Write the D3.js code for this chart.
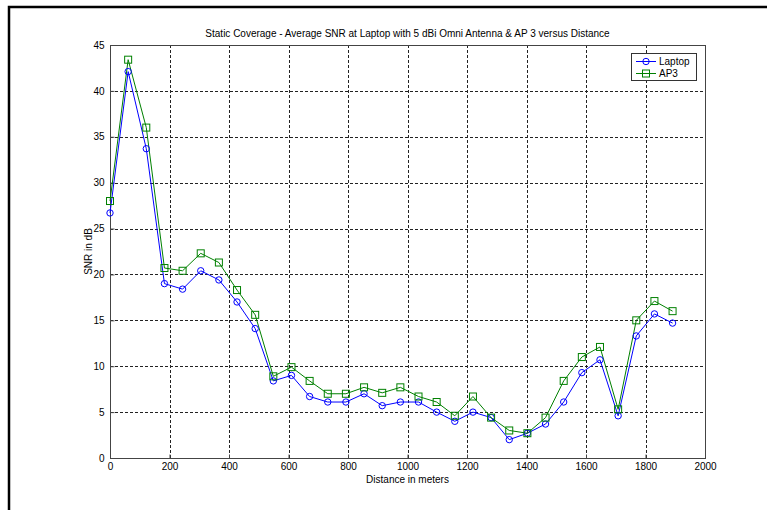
<!DOCTYPE html>
<html>
<head>
<meta charset="utf-8">
<script src="https://cdn.jsdelivr.net/npm/d3@7/dist/d3.min.js"></script>
<style>
  html, body { margin: 0; padding: 0; background: #fff; }
  svg { display: block; }
  text { font-family: "Liberation Sans", Arial, sans-serif; fill: #000; }
</style>
</head>
<body>
<svg id="chart" width="767" height="510"></svg>
<script>
// Measurement positions along the route (meters)
const distance = [0, 61, 122, 183, 244, 305, 366, 427, 488, 549, 610, 671, 732, 793, 854, 915,
                  976, 1037, 1098, 1159, 1220, 1281, 1342, 1403, 1464, 1525, 1586, 1647, 1708, 1769, 1830, 1891];
// Average SNR (dB) at the laptop
const laptopSNR = [26.7, 42.1, 33.7, 19.0, 18.4, 20.4, 19.4, 17.0, 14.1, 8.4, 9.0, 6.7, 6.1, 6.1, 7.0, 5.7,
                   6.1, 6.1, 5.0, 4.0, 5.0, 4.4, 2.0, 2.7, 3.7, 6.1, 9.3, 10.7, 4.6, 13.3, 15.7, 14.7];
// Average SNR (dB) at AP 3
const ap3SNR = [28.0, 43.4, 36.0, 20.7, 20.4, 22.3, 21.3, 18.3, 15.6, 8.9, 9.9, 8.4, 7.0, 7.0, 7.7, 7.1,
                7.7, 6.7, 6.1, 4.6, 6.7, 4.4, 3.0, 2.7, 4.4, 8.4, 11.0, 12.1, 5.3, 15.0, 17.1, 16.0];
const seriesNames = ["Laptop", "AP3"];
const xTicks = [0, 200, 400, 600, 800, 1000, 1200, 1400, 1600, 1800, 2000];
const yTicks = [0, 5, 10, 15, 20, 25, 30, 35, 40, 45];

const svg = d3.select("#chart");
const plotL = 110, plotR = 705, plotT = 45, plotB = 458;

const x = d3.scaleLinear().domain([0, 2000]).range([plotL, plotR]);
const y = d3.scaleLinear().domain([0, 45]).range([plotB, plotT]);

// Figure frame
svg.append("rect")
  .attr("x", 9).attr("y", 7).attr("width", 800).attr("height", 600)
  .attr("fill", "none").attr("stroke", "#000").attr("stroke-width", 2.5);

// Dotted grid
const grid = svg.append("g").attr("stroke", "#222").attr("stroke-dasharray", "3,2").attr("stroke-width", 1);
grid.selectAll("line.gx").data(xTicks.slice(1, -1)).join("line")
  .attr("x1", d => Math.round(x(d)) + 0.5).attr("x2", d => Math.round(x(d)) + 0.5)
  .attr("y1", plotT).attr("y2", plotB);
grid.selectAll("line.gy").data(yTicks.slice(1, -1)).join("line")
  .attr("y1", d => Math.round(y(d)) + 0.5).attr("y2", d => Math.round(y(d)) + 0.5)
  .attr("x1", plotL).attr("x2", plotR);

// Axes with inward ticks
const fmt = d3.format("d");
const xAxis = d3.axisBottom(x).tickValues(xTicks).tickFormat(fmt).tickSizeInner(-4).tickSizeOuter(0).tickPadding(6);
const yAxis = d3.axisLeft(y).tickValues(yTicks).tickFormat(fmt).tickSizeInner(-4).tickSizeOuter(0).tickPadding(6);
const gx = svg.append("g").attr("transform", `translate(0,${plotB + 0.5})`).call(xAxis);
const gy = svg.append("g").attr("transform", `translate(${plotL + 0.5},0)`).call(yAxis);
[gx, gy].forEach(g => {
  g.select(".domain").remove();
  g.selectAll(".tick line").attr("stroke", "#444");
  g.selectAll(".tick text").attr("font-size", 10).attr("font-family", "Liberation Sans, Arial, sans-serif").attr("fill", "#000");
});
gx.selectAll(".tick text").attr("dy", "0.55em");

// Axes box
svg.append("rect")
  .attr("x", plotL + 0.5).attr("y", plotT + 0.5)
  .attr("width", plotR - plotL).attr("height", plotB - plotT)
  .attr("fill", "none").attr("stroke", "#444").attr("stroke-width", 1);

// Series
const colors = ["#0000ff", "#008000"];
const series = [laptopSNR, ap3SNR];
const line = d3.line().x((d, i) => x(distance[i])).y(d => y(d));

series.forEach((vals, s) => {
  svg.append("path").datum(vals)
    .attr("d", line).attr("fill", "none")
    .attr("stroke", colors[s]).attr("stroke-width", 1);
});
svg.append("g").selectAll("circle").data(laptopSNR).join("circle")
  .attr("cx", (d, i) => x(distance[i])).attr("cy", d => y(d)).attr("r", 3.2)
  .attr("fill", "none").attr("stroke", colors[0]).attr("stroke-width", 1);
svg.append("g").selectAll("rect").data(ap3SNR).join("rect")
  .attr("x", (d, i) => x(distance[i]) - 3.5).attr("y", d => y(d) - 3.5)
  .attr("width", 7).attr("height", 7)
  .attr("fill", "none").attr("stroke", colors[1]).attr("stroke-width", 1);

// Title and axis labels
svg.append("text").attr("x", (plotL + plotR) / 2).attr("y", 37)
  .attr("text-anchor", "middle").attr("font-size", 10)
  .text("Static Coverage - Average SNR at Laptop with 5 dBi Omni Antenna & AP 3 versus Distance");
svg.append("text").attr("x", (plotL + plotR) / 2).attr("y", 483)
  .attr("text-anchor", "middle").attr("font-size", 10)
  .text("Distance in meters");
svg.append("text").attr("transform", `translate(92,${(plotT + plotB) / 2}) rotate(-90)`)
  .attr("text-anchor", "middle").attr("font-size", 10)
  .text("SNR in dB");

// Legend
const lg = svg.append("g").attr("transform", "translate(631,53)");
lg.append("rect").attr("x", 0.5).attr("y", 0.5).attr("width", 65).attr("height", 27)
  .attr("fill", "#fff").attr("stroke", "#333").attr("stroke-width", 1);
seriesNames.forEach((name, i) => {
  const yy = 8.5 + i * 12;
  lg.append("line").attr("x1", 5).attr("x2", 25).attr("y1", yy).attr("y2", yy)
    .attr("stroke", colors[i]).attr("stroke-width", 1);
  if (i === 0) {
    lg.append("circle").attr("cx", 15).attr("cy", yy).attr("r", 3.2)
      .attr("fill", "none").attr("stroke", colors[i]);
  } else {
    lg.append("rect").attr("x", 11.5).attr("y", yy - 3.5).attr("width", 7).attr("height", 7)
      .attr("fill", "none").attr("stroke", colors[i]);
  }
  lg.append("text").attr("x", 28).attr("y", yy + 3.5).attr("font-size", 10).text(name);
});
</script>
</body>
</html>
